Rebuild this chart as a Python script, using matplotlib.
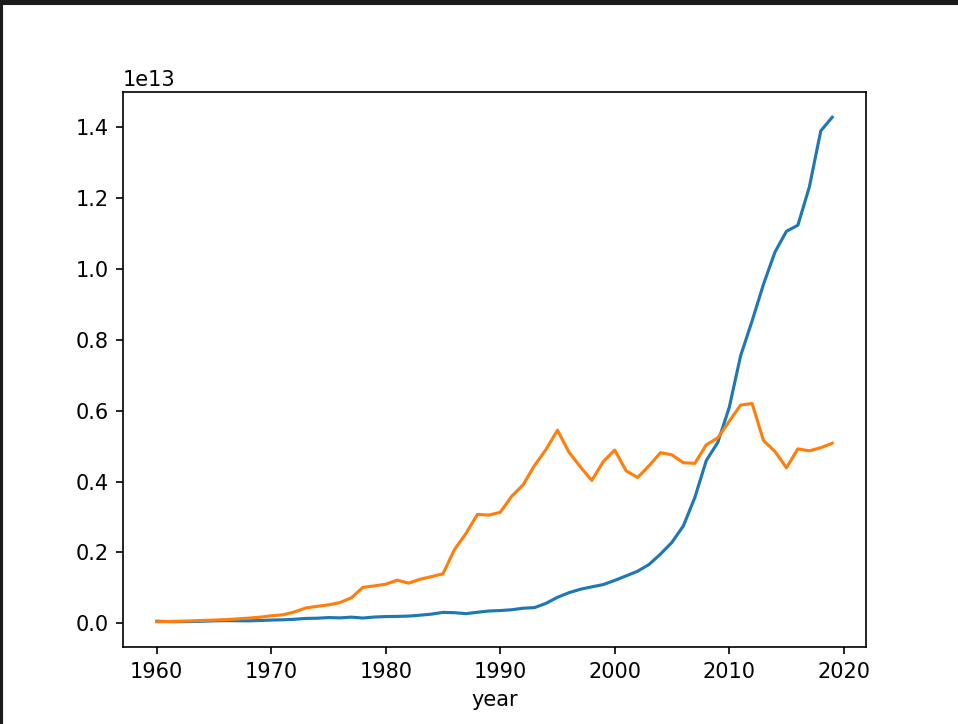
import pandas as pd
from matplotlib import pyplot as plt
from matplotlib.patches import Rectangle

years = list(range(1960, 2020))

# GDP, trillions of US$
china = [
    0.0597, 0.0500, 0.0472, 0.0507, 0.0597, 0.0704, 0.0767, 0.0729, 0.0709, 0.0797,
    0.0926, 0.0998, 0.1136, 0.1385, 0.1442, 0.1630, 0.1539, 0.1749, 0.1495, 0.1783,
    0.1911, 0.1958, 0.2051, 0.2303, 0.2599, 0.3094, 0.3007, 0.2728, 0.3123, 0.3477,
    0.3609, 0.3834, 0.4269, 0.4447, 0.5643, 0.7345, 0.8637, 0.9615, 1.0290, 1.0940,
    1.2113, 1.3394, 1.4706, 1.6603, 1.9553, 2.2860, 2.7521, 3.5500, 4.5944, 5.1017,
    6.0872, 7.5515, 8.5322, 9.5704, 10.4757, 11.0616, 11.2333, 12.3104, 13.8948, 14.2799,
]
japan = [
    0.0443, 0.0537, 0.0608, 0.0693, 0.0817, 0.0910, 0.1056, 0.1239, 0.1467, 0.1726,
    0.2127, 0.2405, 0.3184, 0.4323, 0.4797, 0.5213, 0.5858, 0.7215, 1.0135, 1.0555,
    1.1053, 1.2180, 1.1347, 1.2432, 1.3184, 1.3986, 2.0786, 2.5327, 3.0719, 3.0542,
    3.1329, 3.5842, 3.9088, 4.4545, 4.9070, 5.4492, 4.8334, 4.4147, 4.0325, 4.5625,
    4.8875, 4.3035, 4.1150, 4.4457, 4.8151, 4.7554, 4.5303, 4.5152, 5.0379, 5.2314,
    5.7001, 6.1575, 6.2032, 5.1557, 4.8505, 4.3895, 4.9227, 4.8667, 4.9548, 5.0818,
]

df = pd.DataFrame({
    "year": years,
    "China": [v * 1e12 for v in china],
    "Japan": [v * 1e12 for v in japan],
})

W, H, DPI = 958, 724, 150
fig = plt.figure(figsize=(W / DPI, H / DPI), dpi=DPI)
ax = fig.add_axes([123 / W, 1 - 647 / H, (866 - 123) / W, (647 - 92) / H])

ax.plot(df["year"], df["China"], color="#1f77b4")
ax.plot(df["year"], df["Japan"], color="#ff7f0e")
ax.set_xlabel("year")

# dark screenshot border on top and left
fig.patches.append(Rectangle((0, 1 - 4 / H), 1, 4 / H, transform=fig.transFigure,
                             color="#1b1b1d", zorder=10))
fig.patches.append(Rectangle((0, 0), 2 / W, 1, transform=fig.transFigure,
                             color="#1b1b1d", zorder=10))

fig.savefig("out.png", dpi=DPI)
